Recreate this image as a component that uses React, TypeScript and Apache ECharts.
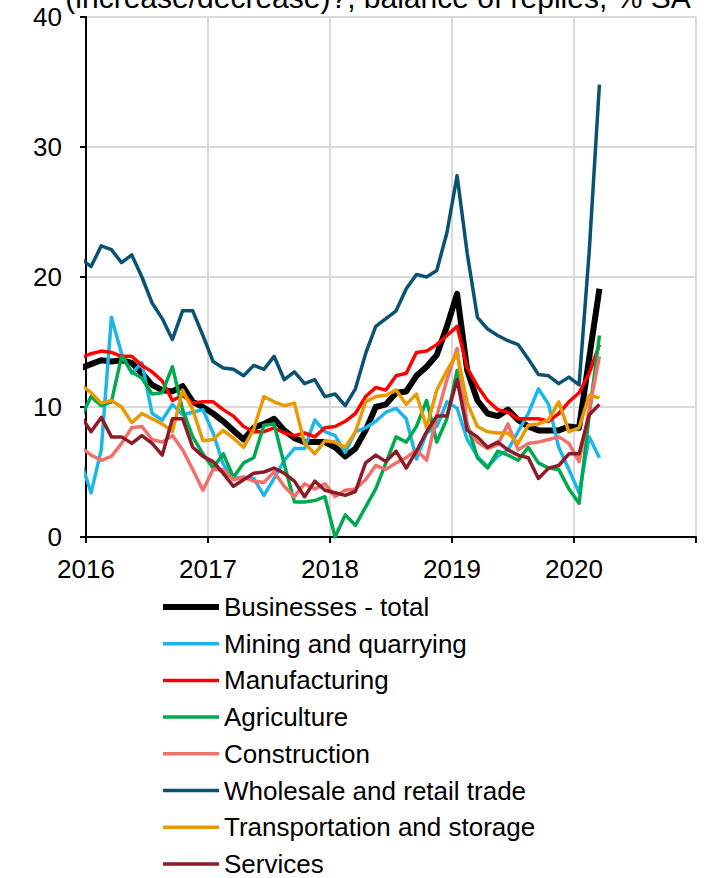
import React, { useEffect, useRef } from "react";
import * as echarts from "echarts";

// Months from Dec 2015 to Mar 2020 (Dec 2015 only feeds the clipped start of each line)
const months: string[] = (() => {
  const out: string[] = ["2015-12"];
  for (let y = 2016; y <= 2020; y++) {
    for (let m = 1; m <= 12; m++) {
      if (y === 2020 && m > 3) break;
      out.push(`${y}-${String(m).padStart(2, "0")}`);
    }
  }
  return out;
})();

const yearTicks = [2016, 2017, 2018, 2019, 2020, 2021];

const businessesTotal = [13.0, 13.3, 13.6, 13.5, 13.6, 13.4, 12.6, 11.7, 11.3, 11.2, 11.6, 10.4, 10.0, 9.5, 8.9, 8.2, 7.5, 8.4, 8.7, 9.1, 8.2, 7.6, 7.3, 7.3, 7.3, 6.9, 6.2, 6.8, 8.2, 10.0, 10.2, 11.1, 11.2, 12.4, 13.1, 14.0, 16.2, 18.7, 12.8, 10.5, 9.5, 9.3, 9.8, 9.0, 8.5, 8.2, 8.2, 8.2, 8.5, 8.4, 13.8, 19.1];
const mining = [5.8, 3.4, 6.7, 16.9, 14.1, 12.6, 13.4, 9.5, 9.0, 10.2, 9.4, 9.6, 9.8, 8.0, 5.6, 4.5, 4.6, 4.5, 3.2, 4.5, 5.9, 6.8, 6.8, 9.0, 8.1, 7.8, 6.5, 8.1, 8.4, 8.9, 9.6, 9.9, 9.1, 6.0, 8.0, 8.5, 10.4, 9.9, 7.5, 6.2, 5.4, 6.2, 6.7, 8.1, 9.5, 11.4, 10.2, 6.9, 5.2, 3.4, 7.7, 6.1];
const manufacturing = [13.8, 14.1, 14.3, 14.2, 13.9, 13.9, 13.2, 12.7, 12.0, 10.5, 10.9, 10.3, 10.4, 10.4, 9.8, 9.3, 8.5, 8.1, 8.1, 8.4, 8.0, 7.8, 8.0, 7.7, 8.4, 8.5, 8.9, 9.5, 10.8, 11.5, 11.3, 12.4, 12.6, 14.2, 14.3, 14.8, 15.5, 16.2, 13.0, 11.6, 10.5, 9.8, 9.6, 9.1, 9.1, 9.1, 8.9, 9.5, 10.4, 11.1, 12.6, 14.8];
const agriculture = [9.2, 10.8, 10.1, 10.4, 13.9, 12.7, 12.2, 11.0, 11.1, 13.1, 9.8, 7.7, 6.4, 5.3, 6.4, 4.6, 5.7, 6.1, 8.6, 8.7, 5.6, 2.7, 2.7, 2.8, 3.1, 0.0, 1.7, 0.9, 2.3, 3.7, 5.7, 7.7, 7.3, 8.5, 10.5, 7.3, 9.1, 12.8, 8.7, 6.1, 5.3, 6.6, 6.3, 5.9, 6.9, 5.7, 5.3, 5.2, 3.7, 2.6, 9.4, 15.5];
const construction = [6.9, 6.3, 5.9, 6.2, 7.2, 8.4, 8.5, 7.5, 7.3, 7.8, 6.7, 5.2, 3.6, 5.2, 5.2, 4.4, 4.6, 4.3, 4.2, 5.0, 3.9, 3.1, 4.1, 3.7, 4.1, 3.1, 3.6, 3.7, 4.4, 5.5, 5.2, 5.7, 6.1, 6.7, 5.9, 9.3, 12.1, 14.5, 8.5, 7.3, 6.8, 7.1, 8.7, 6.7, 7.2, 7.3, 7.5, 7.7, 7.2, 5.8, 9.8, 13.9];
const wholesale = [21.4, 20.8, 22.4, 22.1, 21.1, 21.7, 20.0, 18.0, 16.8, 15.2, 17.4, 17.4, 15.5, 13.5, 13.0, 12.9, 12.4, 13.2, 12.9, 13.9, 12.1, 12.7, 11.8, 12.1, 10.8, 11.0, 10.1, 11.4, 14.1, 16.2, 16.8, 17.4, 19.1, 20.2, 20.0, 20.5, 23.4, 27.8, 21.8, 16.9, 16.0, 15.5, 15.1, 14.8, 13.7, 12.5, 12.4, 11.8, 12.3, 11.7, 22.0, 34.8];
const transportation = [11.7, 11.1, 10.3, 10.5, 10.0, 8.8, 9.5, 9.1, 8.7, 8.1, 11.3, 9.8, 7.4, 7.5, 8.2, 7.6, 6.9, 8.3, 10.8, 10.4, 10.1, 10.3, 7.2, 6.4, 7.4, 7.3, 6.9, 8.1, 10.4, 10.8, 10.9, 11.3, 10.2, 11.0, 8.4, 11.3, 12.8, 14.1, 10.3, 8.5, 8.1, 8.0, 8.0, 7.2, 8.6, 8.7, 9.0, 10.4, 8.1, 8.4, 10.9, 10.7];
const services = [9.3, 8.1, 9.2, 7.7, 7.7, 7.2, 7.8, 7.2, 6.3, 9.1, 9.1, 6.9, 6.2, 5.8, 4.9, 3.9, 4.4, 4.9, 5.0, 5.3, 4.9, 4.3, 3.1, 4.3, 3.6, 3.4, 3.2, 3.5, 5.7, 6.3, 5.8, 6.6, 5.3, 6.6, 8.1, 9.3, 9.3, 12.1, 8.2, 7.7, 6.9, 7.3, 6.7, 6.3, 6.1, 4.5, 5.3, 5.5, 6.4, 6.4, 9.4, 10.2];

const seriesNames = [
  "Businesses - total",
  "Mining and quarrying",
  "Manufacturing",
  "Agriculture",
  "Construction",
  "Wholesale and retail trade",
  "Transportation and storage",
  "Services",
];
const seriesValues = [businessesTotal, mining, manufacturing, agriculture, construction, wholesale, transportation, services];
const seriesColors = ["#000000", "#1cb6e8", "#ff0000", "#00a84f", "#f0706a", "#0a5273", "#e89a00", "#8c1a28"];
const seriesWidths = [6, 3.5, 3.5, 3.5, 3.5, 3.5, 3.5, 3.5];

const titleText = "(increase/decrease)?, balance of replies, % SA";
const FONT = '"Liberation Sans", Arial, sans-serif';

// month string -> fractional year at mid-month
const monthToX = (m: string) => {
  const [y, mo] = m.split("-").map(Number);
  return y + (mo - 0.5) / 12;
};

export default function App() {
  const ref = useRef<HTMLDivElement>(null);
  useEffect(() => {
    if (!ref.current) return;
    const chart = echarts.init(ref.current, undefined, { renderer: "svg" });
    chart.setOption({
      animation: false,
      backgroundColor: "#ffffff",
      textStyle: { fontFamily: FONT },
      grid: { left: 86, right: 12, top: 17, bottom: 341, containLabel: false },
      xAxis: {
        type: "value",
        min: yearTicks[0],
        max: yearTicks[yearTicks.length - 1],
        interval: 1,
        axisLine: { show: true, onZero: false, lineStyle: { color: "#000", width: 2 } },
        axisTick: { show: true, length: 6, lineStyle: { color: "#000", width: 2 } },
        axisLabel: {
          color: "#000",
          fontSize: 26,
          fontFamily: FONT,
          margin: 19,
          formatter: (v: number) => (v >= 2021 ? "" : String(v)),
        },
        splitLine: { show: true, lineStyle: { color: "#d9d9d9", width: 2 } },
      },
      yAxis: {
        type: "value",
        min: 0,
        max: 40,
        interval: 10,
        axisLine: { show: true, lineStyle: { color: "#000", width: 2 } },
        axisTick: { show: true, length: 6, lineStyle: { color: "#000", width: 2 } },
        axisLabel: { color: "#000", fontSize: 26, fontFamily: FONT, margin: 24 },
        splitLine: { show: true, lineStyle: { color: "#d9d9d9", width: 2 } },
      },
      legend: {
        orient: "vertical",
        left: 160,
        top: 594,
        height: 300,
        padding: 0,
        itemWidth: 56,
        itemHeight: 14,
        itemGap: 10.7,
        itemStyle: { opacity: 0 },
        data: seriesNames.map((name, i) => ({
          name,
          lineStyle: { width: seriesWidths[i], color: seriesColors[i], opacity: 1 },
        })),
        textStyle: { color: "#000", fontSize: 26, lineHeight: 26, fontFamily: FONT },
      },
      graphic: [
        {
          type: "text",
          x: 378,
          y: -3,
          style: {
            text: titleText,
            font: `30px ${FONT}`,
            fill: "#000",
            textAlign: "center",
            textVerticalAlign: "middle",
          },
        },
      ],
      series: seriesNames.map((name, i) => ({
        name,
        type: "line",
        data: months.map((m, j) => [monthToX(m), seriesValues[i][j]]),
        showSymbol: false,
        symbol: "none",
        clip: true,
        lineStyle: { color: seriesColors[i], width: seriesWidths[i], join: "round" },
        itemStyle: { color: seriesColors[i] },
      })),
    });
    return () => chart.dispose();
  }, []);
  return <div ref={ref} style={{ width: 708, height: 878, position: "absolute", left: 0, top: 0 }} />;
}
